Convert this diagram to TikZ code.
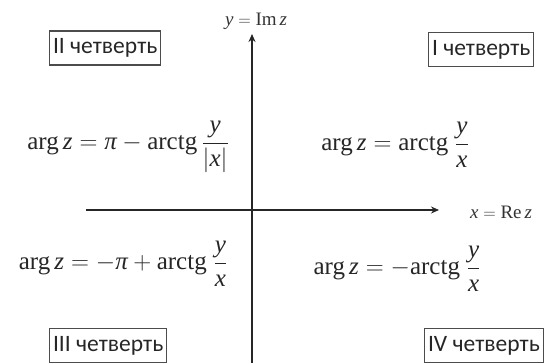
\documentclass[tikz,border=0pt]{standalone}
\usepackage{amsmath}
\usepackage{fontspec}
\setmainfont{Liberation Serif}
\newfontfamily\lblfont{Carlito}
\usetikzlibrary{arrows.meta}
\newcommand\mv[1]{\text{\itshape #1}}
\newcommand\tg{\text{arctg}}
\newcommand\ag{\text{arg}}
\begin{document}
\begin{tikzpicture}[x=1pt,y=-1pt,
  quarter/.style={draw=black!70,line width=1.1pt,anchor=west,inner xsep=3.5pt,inner ysep=0pt,minimum height=34pt,font=\lblfont\fontsize{23.5}{23.5}\selectfont,text=black!85},
  formula/.style={font=\fontsize{25}{28}\selectfont,text=black!85},
  axis/.style={line width=1.8pt,draw=black!85,-{Stealth[length=8pt,width=7pt]}},
  axlbl/.style={font=\fontsize{19}{21}\selectfont,text=black!80}]
\useasboundingbox (0,0) rectangle (548,363);
\coordinate (ybot) at (252,370);
\coordinate (ytop) at (252,34);
\coordinate (xl) at (86,210);
\coordinate (xr) at (439,210);
\draw[axis] (ybot) -- (ytop);
\draw[axis] (xl) -- (xr);
\node[axlbl] (ylab) at (256,21) {$\mv{y}=\text{Im}\,\mv{z}$};
\node[axlbl] (xlab) at (501,212) {$\mv{x}=\text{Re}\,\mv{z}$};
\node[quarter] (q2) at (49,48) {II четверть};
\node[quarter] (q1) at (428,49.5) {I четверть};
\node[quarter] (q3) at (49,345.5) {III четверть};
\node[quarter] (q4) at (424,345.5) {IV четверть};
\node[formula] (f2) at (128,147) {$\ag\,\mv{z}=\mv{π}-\tg\,\dfrac{\mv{y}}{|\mv{x}|}$};
\node[formula] (f1) at (395,145) {$\ag\,\mv{z}=\tg\;\dfrac{\mv{y}}{\mv{x}}$};
\node[formula] (f3) at (123,264) {$\ag\,\mv{z}=-\mv{π}+\tg\;\dfrac{\mv{y}}{\mv{x}}$};
\node[formula] (f4) at (397,269) {$\ag\,\mv{z}=-\tg\;\dfrac{\mv{y}}{\mv{x}}$};
\end{tikzpicture}
\end{document}
